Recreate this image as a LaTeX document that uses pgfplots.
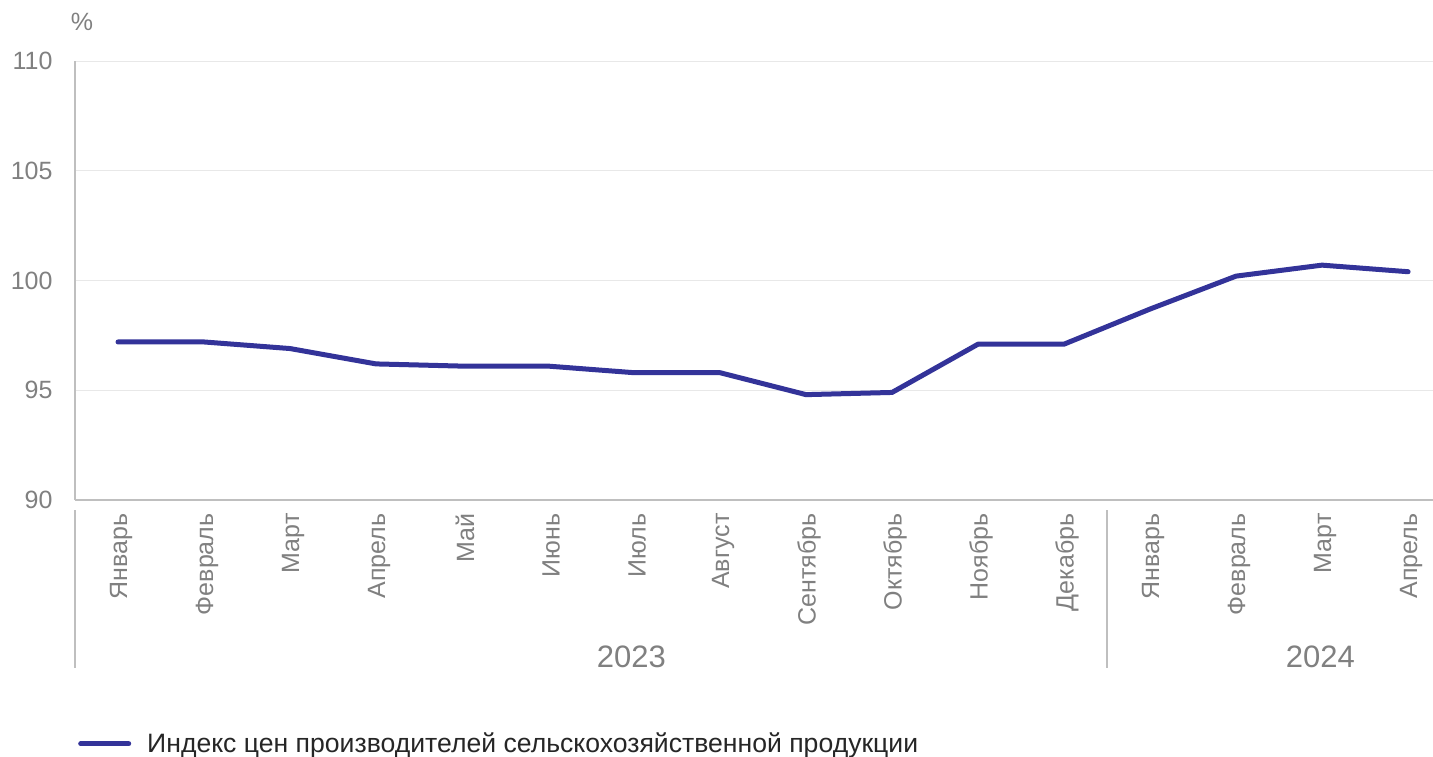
\documentclass[border=0pt]{standalone}
\usepackage{fontspec}
\setmainfont{Liberation Sans}
\usepackage{pgfplots}
\pgfplotsset{compat=1.18}
\definecolor{lineblue}{RGB}{51,51,153}
\definecolor{txtgray}{RGB}{128,128,128}
\definecolor{axgray}{RGB}{191,191,191}
\definecolor{gridgray}{RGB}{232,232,232}
\definecolor{legtxt}{RGB}{38,38,38}
\newcommand{\tf}{\fontsize{25}{30}\selectfont}
\begin{document}
\begin{tikzpicture}
\begin{axis}[
    at={(75pt,-500pt)}, anchor=south west,
    scale only axis, width=1358pt, height=439pt,
    xmin=-0.5, xmax=15.29, ymin=90, ymax=110,
    clip=false,
    axis x line=bottom, axis y line=left,
    axis line style={-, axgray, line width=1.5pt},
    ymajorgrids, major grid style={gridgray, line width=1pt},
    major tick length=0pt,
    xtick={0,...,15},
    xticklabels={Январь,Февраль,Март,Апрель,Май,Июнь,Июль,Август,Сентябрь,Октябрь,Ноябрь,Декабрь,Январь,Февраль,Март,Апрель},
    xticklabel style={rotate=90, anchor=east, font=\tf, text=txtgray, xshift=-10pt, yshift=-3pt},
    ytick={90,95,...,110},
    yticklabel style={font=\tf, text=txtgray, xshift=-19pt},
    /pgf/number format/assume math mode=true,
    legend style={at={(0,0)}, anchor=north west, xshift=0pt, yshift=-229pt,
        draw=none, fill=none, font=\fontsize{26.6}{31}\selectfont, text=legtxt,
        /tikz/every odd column/.append style={column sep=14pt}},
    legend image code/.code={\draw[line width=5pt] (0pt,0pt) -- (48pt,0pt);},
]
\addplot[lineblue, line width=5pt, line join=round, line cap=round] coordinates {
    (0,97.2) (1,97.2) (2,96.9) (3,96.2) (4,96.1) (5,96.1) (6,95.8) (7,95.8)
    (8,94.8) (9,94.9) (10,97.1) (11,97.1) (12,98.7) (13,100.2) (14,100.7) (15,100.4)};
\addlegendentry{Индекс цен производителей сельскохозяйственной продукции}
\draw[axgray, line width=1.5pt] (axis cs:-0.5,90) ++(0pt,-10pt) -- ++(0pt,-158pt);
\draw[axgray, line width=1.5pt] (axis cs:11.5,90) ++(0pt,-10pt) -- ++(0pt,-158pt);
\node[text=txtgray, font=\fontsize{31}{36}\selectfont, yshift=-157pt] at (axis cs:5.97,90) {2023};
\node[text=txtgray, font=\fontsize{31}{36}\selectfont, yshift=-157pt] at (axis cs:13.98,90) {2024};
\node[text=txtgray, font=\tf, xshift=7pt, yshift=39pt] at (rel axis cs:0,1) {\%};
\end{axis}
\pgfresetboundingbox
\useasboundingbox (0pt,0pt) rectangle (1433pt,-757pt);
\end{tikzpicture}
\end{document}
